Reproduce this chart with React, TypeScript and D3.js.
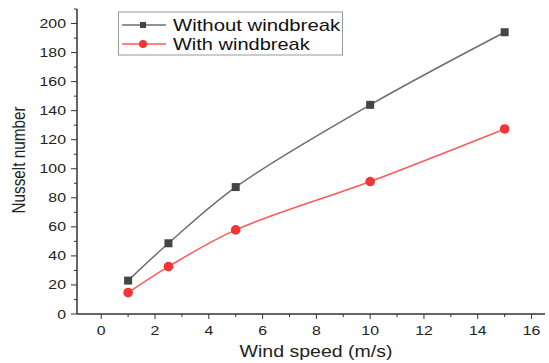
import React, { useEffect, useRef } from 'react';
import * as d3 from 'd3';

const windSpeed = [1, 2.5, 5, 10, 15];
const withoutWindbreak = [23, 48.7, 87.4, 144, 194];
const withWindbreak = [14.7, 32.6, 57.9, 91.2, 127.4];
const xTicks = [0, 2, 4, 6, 8, 10, 12, 14, 16];
const yTicks = [0, 20, 40, 60, 80, 100, 120, 140, 160, 180, 200];

const W = 549;
const H = 363;
const font = 'Liberation Sans, Arial, sans-serif';
// the picture looks stretched sideways, so the text is too
const sx = 1.22;

export default function App() {
  const ref = useRef<SVGSVGElement>(null);

  useEffect(() => {
    const svg = d3.select(ref.current);
    svg.selectAll('*').remove();

    const x = d3.scaleLinear().domain([-0.9, 16.5]).range([77, 545]);
    const y = d3.scaleLinear().domain([0, 210]).range([314, 9]);

    const label = (g: any, px: number, py: number, txt: string, size: number, anchor: string, rot = 0) =>
      g.append('text')
        .attr('transform', 'translate(' + px + ',' + py + ') rotate(' + rot + ') scale(' + (rot ? 1 : sx) + ',' + (rot ? sx : 1) + ')')
        .attr('text-anchor', anchor)
        .attr('font-family', font).attr('font-size', size).attr('fill', '#222')
        .text(txt);

    // x axis
    const xAxis = svg.append('g').attr('transform', 'translate(0,' + y(0) + ')');
    xAxis.append('line').attr('x1', x(-0.9)).attr('x2', x(16.5)).attr('stroke', '#333').attr('stroke-width', 1.5);
    d3.range(0, 17, 1).forEach((t) => {
      xAxis.append('line')
        .attr('x1', x(t)).attr('x2', x(t))
        .attr('y1', 0).attr('y2', t % 2 === 0 ? 5 : 3)
        .attr('stroke', '#333').attr('stroke-width', 1);
    });
    xTicks.forEach((t) => label(xAxis, x(t), 21, String(t), 13, 'middle'));

    // y axis
    const yAxis = svg.append('g').attr('transform', 'translate(' + x(-0.9) + ',0)');
    yAxis.append('line').attr('y1', y(0)).attr('y2', y(210)).attr('stroke', '#333').attr('stroke-width', 1.5);
    d3.range(0, 211, 10).forEach((t) => {
      yAxis.append('line')
        .attr('y1', y(t)).attr('y2', y(t))
        .attr('x1', 0).attr('x2', t % 20 === 0 ? -6 : -3)
        .attr('stroke', '#333').attr('stroke-width', 1);
    });
    yTicks.forEach((t) => label(yAxis, -11, y(t) + 4.5, String(t), 13, 'end'));

    // titles
    label(svg, 316, 357, 'Wind speed (m/s)', 16, 'middle');
    label(svg, 25, 160, 'Nusselt number', 15.3, 'middle', -90);

    const line = d3.line<number>()
      .x((d, i) => x(windSpeed[i]))
      .y((d) => y(d))
      .curve(d3.curveCatmullRom.alpha(0.5));

    // without windbreak
    svg.append('path').datum(withoutWindbreak)
      .attr('d', line).attr('fill', 'none').attr('stroke', '#6e6e6e').attr('stroke-width', 1.5);
    svg.selectAll('rect.pt').data(withoutWindbreak).enter().append('rect')
      .attr('x', (d, i) => x(windSpeed[i]) - 4).attr('y', (d) => y(d) - 4)
      .attr('width', 8).attr('height', 8).attr('fill', '#454545');

    // with windbreak
    svg.append('path').datum(withWindbreak)
      .attr('d', line).attr('fill', 'none').attr('stroke', '#ff5a5a').attr('stroke-width', 1.5);
    svg.selectAll('circle.pt').data(withWindbreak).enter().append('circle')
      .attr('cx', (d, i) => x(windSpeed[i])).attr('cy', (d) => y(d))
      .attr('r', 4.8).attr('fill', '#f23535');

    // legend
    const lg = svg.append('g');
    lg.append('rect').attr('x', 118.5).attr('y', 12).attr('width', 224).attr('height', 43)
      .attr('fill', 'white').attr('stroke', '#999').attr('stroke-width', 1);
    lg.append('line').attr('x1', 122).attr('x2', 166).attr('y1', 25).attr('y2', 25)
      .attr('stroke', '#6e6e6e').attr('stroke-width', 1.5);
    lg.append('rect').attr('x', 140).attr('y', 22).attr('width', 6).attr('height', 6).attr('fill', '#454545');
    lg.append('line').attr('x1', 122).attr('x2', 166).attr('y1', 44).attr('y2', 44)
      .attr('stroke', '#ff5a5a').attr('stroke-width', 1.5);
    lg.append('circle').attr('cx', 143).attr('cy', 44).attr('r', 4).attr('fill', '#f23535');
    label(lg, 173, 30.5, 'Without windbreak', 16, 'start').attr('fill', '#111')
      .attr('textLength', 137).attr('lengthAdjust', 'spacingAndGlyphs');
    label(lg, 173, 49.5, 'With windbreak', 16, 'start').attr('fill', '#111')
      .attr('textLength', 112).attr('lengthAdjust', 'spacingAndGlyphs');
  }, []);

  return (
    <svg ref={ref} width={W} height={H} style={{ position: 'absolute', left: 0, top: 0, background: 'white' }} />
  );
}
